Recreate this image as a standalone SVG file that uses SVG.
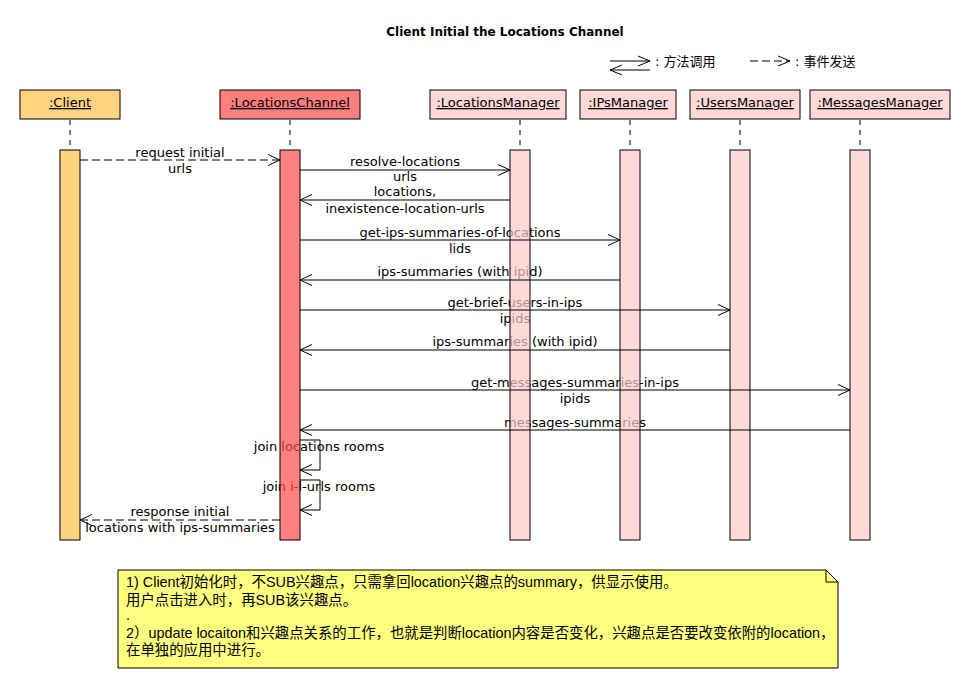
<svg xmlns="http://www.w3.org/2000/svg" width="970" height="690" viewBox="0 0 970 690">
<style>
.t{font-family:"DejaVu Sans","Noto Sans CJK SC",sans-serif;font-size:13px;fill:#000}
.m{text-anchor:middle}
.hd{stroke:#000;stroke-width:1}
.ul{text-decoration:underline}
.life{stroke:#000;stroke-width:1;stroke-dasharray:5,5;fill:none}
.bar{stroke:#000;stroke-width:1}
.msg{stroke:#000;stroke-width:1;fill:none;marker-end:url(#ah)}
.dash{stroke-dasharray:8,4}
.note{font-family:"Liberation Sans","Noto Sans CJK SC",sans-serif;font-size:14.4px;fill:#000}
</style>
<defs>
<marker id="ah" markerUnits="userSpaceOnUse" markerWidth="16" markerHeight="16" refX="13" refY="7" orient="auto">
<path d="M1,1.5 L13,7 L1,12.5" fill="none" stroke="#000" stroke-width="1"/>
</marker>
</defs>
<rect width="970" height="690" fill="#fff"/>
<text x="505" y="36" class="m" font-family="DejaVu Sans,sans-serif" font-size="12" font-weight="bold">Client Initial the Locations Channel</text>

<g id="legend">
<line x1="610" y1="61" x2="650" y2="61" stroke="#000"/>
<path d="M638,56 L650,61 L638,66" fill="none" stroke="#000"/>
<line x1="610" y1="70" x2="650" y2="70" stroke="#000"/>
<path d="M622,65 L610,70 L622,75" fill="none" stroke="#000"/>
<text x="655" y="66" class="t">: 方法调用</text>
<line x1="750" y1="61" x2="790" y2="61" stroke="#000" stroke-dasharray="8,4"/>
<path d="M778,56 L790,61 L778,66" fill="none" stroke="#000"/>
<text x="795" y="66" class="t">: 事件发送</text>
</g>

<g id="client">
<rect x="20" y="90" width="100" height="29" fill="#FFD37F" class="hd"/>
<text x="70" y="107" class="t m ul">:Client</text>
<line x1="70" y1="120" x2="70" y2="150" class="life"/>
</g>
<g id="locationsChannel">
<rect x="220" y="90" width="140" height="29" fill="#FF7F7F" class="hd"/>
<text x="290" y="107" class="t m ul">:LocationsChannel</text>
<line x1="290" y1="120" x2="290" y2="150" class="life"/>
</g>
<g id="locationsManager">
<rect x="430" y="90" width="136" height="29" fill="#FFD8D8" class="hd"/>
<text x="498" y="107" class="t m ul">:LocationsManager</text>
<line x1="520" y1="120" x2="520" y2="150" class="life"/>
</g>
<g id="ipsManager">
<rect x="580" y="90" width="96" height="29" fill="#FFD8D8" class="hd"/>
<text x="628" y="107" class="t m ul">:IPsManager</text>
<line x1="630" y1="120" x2="630" y2="150" class="life"/>
</g>
<g id="usersManager">
<rect x="690" y="90" width="110" height="29" fill="#FFD8D8" class="hd"/>
<text x="745" y="107" class="t m ul">:UsersManager</text>
<line x1="740" y1="120" x2="740" y2="150" class="life"/>
</g>
<g id="messagesManager">
<rect x="810" y="90" width="140" height="29" fill="#FFD8D8" class="hd"/>
<text x="880" y="107" class="t m ul">:MessagesManager</text>
<line x1="860" y1="120" x2="860" y2="150" class="life"/>
</g>

<g id="labels">
<text x="180" y="157" class="t m">request initial</text>
<text x="180" y="173" class="t m">urls</text>
<text x="405" y="166" class="t m">resolve-locations</text>
<text x="405" y="181" class="t m">urls</text>
<text x="405" y="196" class="t m">locations,</text>
<text x="405" y="213" class="t m">inexistence-location-urls</text>
<text x="460" y="237" class="t m">get-ips-summaries-of-locations</text>
<text x="460" y="253" class="t m">lids</text>
<text x="460" y="276" class="t m">ips-summaries (with ipid)</text>
<text x="515" y="307" class="t m">get-brief-users-in-ips</text>
<text x="515" y="323" class="t m">ipids</text>
<text x="515" y="346" class="t m">ips-summaries (with ipid)</text>
<text x="575" y="387" class="t m">get-messages-summaries-in-ips</text>
<text x="575" y="403" class="t m">ipids</text>
<text x="575" y="427" class="t m">messages-summaries</text>
<text x="319" y="451" class="t m">join locations rooms</text>
<text x="319" y="491" class="t m">join i-l-urls rooms</text>
<text x="180" y="516" class="t m">response initial</text>
<text x="180" y="532" class="t m">locations with ips-summaries</text>
</g>

<g id="activations">
<rect x="60" y="150" width="20" height="390" fill="#FFBF48" fill-opacity="0.7" class="bar"/>
<rect x="280" y="150" width="20" height="390" fill="#FF4A4A" fill-opacity="0.7" class="bar"/>
<rect x="510" y="150" width="20" height="390" fill="#FFC7C7" fill-opacity="0.7" class="bar"/>
<rect x="620" y="150" width="20" height="390" fill="#FFC7C7" fill-opacity="0.7" class="bar"/>
<rect x="730" y="150" width="20" height="390" fill="#FFC7C7" fill-opacity="0.7" class="bar"/>
<rect x="850" y="150" width="20" height="390" fill="#FFC7C7" fill-opacity="0.7" class="bar"/>
</g>

<g id="connectors">
<path d="M80,160 H280" class="msg dash"/>
<path d="M300,170 H510" class="msg"/>
<path d="M510,200 H300" class="msg"/>
<path d="M300,240 H620" class="msg"/>
<path d="M620,280 H300" class="msg"/>
<path d="M300,310 H730" class="msg"/>
<path d="M730,350 H300" class="msg"/>
<path d="M300,390 H850" class="msg"/>
<path d="M850,430 H300" class="msg"/>
<path d="M300,440 H320 V470 H300" class="msg"/>
<path d="M300,480 H320 V510 H300" class="msg"/>
<path d="M280,520 H80" class="msg dash"/>
</g>

<g id="note">
<path d="M118,570 H826 L838,582 V668 H118 Z" fill="#FFFF80" stroke="#000"/>
<path d="M826,570 V582 H838" fill="none" stroke="#000"/>
<text x="126" y="587" class="note">1) Client初始化时，不SUB兴趣点，只需拿回location兴趣点的summary，供显示使用。</text>
<text x="126" y="605" class="note">用户点击进入时，再SUB该兴趣点。</text>
<text x="126" y="620" class="note" font-size="10">.</text>
<text x="126" y="638" class="note">2）update locaiton和兴趣点关系的工作，也就是判断location内容是否变化，兴趣点是否要改变依附的location，</text>
<text x="126" y="655" class="note">在单独的应用中进行。</text>
</g>
</svg>
